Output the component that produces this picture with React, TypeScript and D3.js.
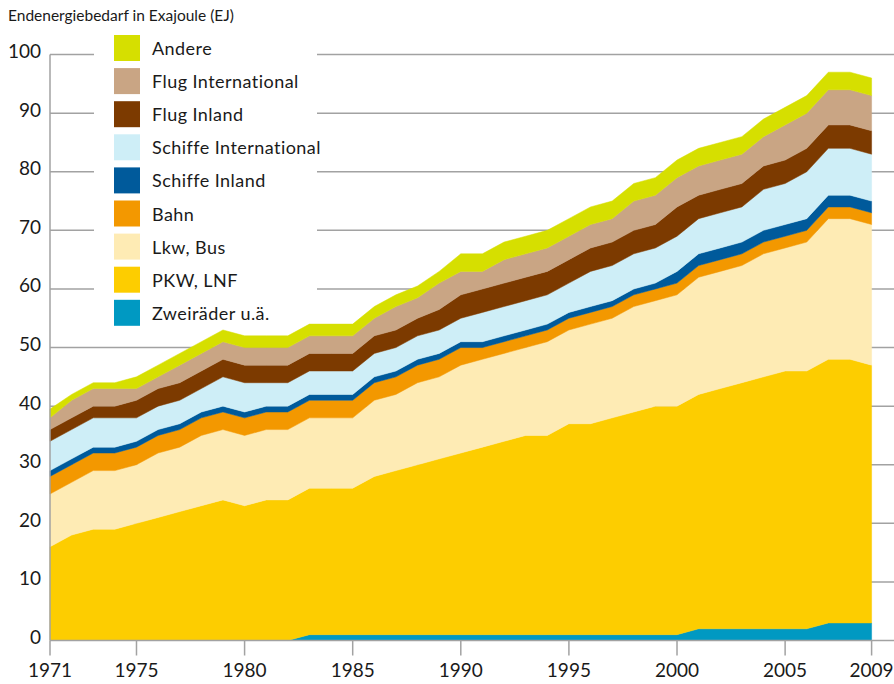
import React, { useRef, useEffect } from "react";
import * as d3 from "d3";

// values in EJ, one entry per year
const years = [
  1971, 1972, 1973, 1974, 1975, 1976, 1977, 1978, 1979, 1980, 1981, 1982, 1983,
  1984, 1985, 1986, 1987, 1988, 1989, 1990, 1991, 1992, 1993, 1994, 1995, 1996,
  1997, 1998, 1999, 2000, 2001, 2002, 2003, 2004, 2005, 2006, 2007, 2008, 2009,
];
const zweiraeder = [
  0, 0, 0, 0, 0, 0, 0, 0, 0, 0, 0, 0, 1, 1, 1, 1, 1, 1, 1, 1, 1, 1, 1, 1, 1, 1,
  1, 1, 1, 1, 2, 2, 2, 2, 2, 2, 3, 3, 3,
];
const pkw = [
  16, 18, 19, 19, 20, 21, 22, 23, 24, 23, 24, 24, 25, 25, 25, 27, 28, 29, 30, 31,
  32, 33, 34, 34, 36, 36, 37, 38, 39, 39, 40, 41, 42, 43, 44, 44, 45, 45, 44,
];
const lkw = [
  9, 9, 10, 10, 10, 11, 11, 12, 12, 12, 12, 12, 12, 12, 12, 13, 13, 14, 14, 15,
  15, 15, 15, 16, 16, 17, 17, 18, 18, 19, 20, 20, 20, 21, 21, 22, 24, 24, 24,
];
const bahn = [
  3, 3, 3, 3, 3, 3, 3, 3, 3, 3, 3, 3, 3, 3, 3, 3, 3, 3, 3, 3, 2, 2, 2, 2, 2, 2,
  2, 2, 2, 2, 2, 2, 2, 2, 2, 2, 2, 2, 2,
];
const schiffeInland = [
  1, 1, 1, 1, 1, 1, 1, 1, 1, 1, 1, 1, 1, 1, 1, 1, 1, 1, 1, 1, 1, 1, 1, 1, 1, 1,
  1, 1, 1, 2, 2, 2, 2, 2, 2, 2, 2, 2, 2,
];
const schiffeInternational = [
  5, 5, 5, 5, 4, 4, 4, 4, 5, 5, 4, 4, 4, 4, 4, 4, 4, 4, 4, 4, 5, 5, 5, 5, 5, 6,
  6, 6, 6, 6, 6, 6, 6, 7, 7, 8, 8, 8, 8,
];
const flugInland = [
  2, 2, 2, 2, 3, 3, 3, 3, 3, 3, 3, 3, 3, 3, 3, 3, 3, 3, 3.5, 4, 4, 4, 4, 4, 4, 4,
  4, 4, 4, 5, 4, 4, 4, 4, 4, 4, 4, 4, 4,
];
const flugInternational = [
  2, 3, 3, 3, 2, 2, 3, 3, 3, 3, 3, 3, 3, 3, 3, 3, 4, 3.5, 4.5, 4, 3, 4, 4, 4, 4,
  4, 4, 5, 5, 5, 5, 5, 5, 5, 6, 6, 6, 6, 6,
];
const andere = [
  1.5, 1, 1, 1, 2, 2, 2, 2, 2, 2, 2, 2, 2, 2, 2, 2, 2, 2, 2, 3, 3, 3, 3, 3, 3, 3,
  3, 3, 3, 3, 3, 3, 3, 3, 3, 3, 3, 3, 3,
];

// bottom to top
const seriesNames = [
  "Zweiräder u.ä.",
  "PKW, LNF",
  "Lkw, Bus",
  "Bahn",
  "Schiffe Inland",
  "Schiffe International",
  "Flug Inland",
  "Flug International",
  "Andere",
];
const seriesValues = [
  zweiraeder,
  pkw,
  lkw,
  bahn,
  schiffeInland,
  schiffeInternational,
  flugInland,
  flugInternational,
  andere,
];
const seriesColors = [
  "#0099c2",
  "#fdcd00",
  "#feebb4",
  "#f39800",
  "#005a9b",
  "#ceeef7",
  "#7c3a00",
  "#c9a584",
  "#d6df00",
];

const yTicks = [0, 10, 20, 30, 40, 50, 60, 70, 80, 90, 100];
const xTicks = [1971, 1975, 1980, 1985, 1990, 1995, 2000, 2005, 2009];

const width = 894;
const height = 684;
const font = "Lato, 'Open Sans', sans-serif";
const gridColor = "#a2a2a2";

const App = () => {
  const svgRef = useRef(null);

  useEffect(() => {
    const svg = d3.select(svgRef.current);
    svg.selectAll("*").remove();

    const rows = years.map((year, i) => {
      const row: any = { year };
      seriesNames.forEach((name, k) => {
        row[name] = seriesValues[k][i];
      });
      return row;
    });
    const layers = d3.stack().keys(seriesNames)(rows);

    const xScale = d3.scaleLinear().domain([1971, 2009]).range([50, 871.6]);
    const yScale = d3.scaleLinear().domain([0, 100]).range([640.5, 54.6]);

    // grid lines behind everything
    svg
      .append("g")
      .selectAll("line")
      .data(yTicks.filter((t) => t > 0))
      .join("line")
      .attr("x1", 50)
      .attr("x2", width)
      .attr("y1", (d) => yScale(d))
      .attr("y2", (d) => yScale(d))
      .attr("stroke", gridColor)
      .attr("stroke-width", 1.5);

    // white box behind legend hides the grid lines
    svg
      .append("rect")
      .attr("x", 94)
      .attr("y", 30)
      .attr("width", 223)
      .attr("height", 300)
      .attr("fill", "#ffffff");

    // stacked areas
    const area = d3
      .area<any>()
      .x((d) => xScale(d.data.year))
      .y0((d) => yScale(d[0]))
      .y1((d) => yScale(d[1]));

    svg
      .append("g")
      .selectAll("path")
      .data(layers)
      .join("path")
      .attr("d", area)
      .attr("fill", (d, i) => seriesColors[i])
      .attr("stroke", (d, i) => seriesColors[i])
      .attr("stroke-width", 0.5);

    // axis lines
    svg
      .append("line")
      .attr("x1", 50)
      .attr("x2", 50)
      .attr("y1", yScale(100))
      .attr("y2", yScale(0))
      .attr("stroke", gridColor)
      .attr("stroke-width", 1.5);
    svg
      .append("line")
      .attr("x1", 50)
      .attr("x2", width)
      .attr("y1", yScale(0))
      .attr("y2", yScale(0))
      .attr("stroke", gridColor)
      .attr("stroke-width", 1.5);

    // x ticks + labels
    const xAxis = svg.append("g");
    xAxis
      .selectAll("line")
      .data(xTicks)
      .join("line")
      .attr("x1", (d) => xScale(d))
      .attr("x2", (d) => xScale(d))
      .attr("y1", yScale(0))
      .attr("y2", yScale(0) + 15)
      .attr("stroke", gridColor)
      .attr("stroke-width", 1.5);
    xAxis
      .selectAll("text")
      .data(xTicks)
      .join("text")
      .attr("x", (d) => xScale(d))
      .attr("y", 677)
      .attr("text-anchor", "middle")
      .attr("fill", "#1a1a1a")
      .style("font-size", "19px")
      .text((d) => String(d));

    // y labels
    svg
      .append("g")
      .selectAll("text")
      .data(yTicks)
      .join("text")
      .attr("x", 41)
      .attr("y", (d) => yScale(d) + 3.5)
      .attr("text-anchor", "end")
      .attr("fill", "#1a1a1a")
      .style("font-size", "19px")
      .text((d) => String(d));

    // title
    svg
      .append("text")
      .attr("x", 8)
      .attr("y", 20.5)
      .attr("fill", "#1a1a1a")
      .style("font-size", "15.5px")
      .text("Endenergiebedarf in Exajoule (EJ)");

    // legend
    const legendItems = seriesNames
      .map((name, i) => ({ name, color: seriesColors[i] }))
      .reverse();

    const items = svg
      .append("g")
      .selectAll("g.item")
      .data(legendItems)
      .join("g")
      .attr("class", "item")
      .attr("transform", (d, i) => `translate(114, ${35 + i * 33.1})`);
    items
      .append("rect")
      .attr("width", 26)
      .attr("height", 26)
      .attr("fill", (d) => d.color);
    items
      .append("text")
      .attr("x", 38)
      .attr("y", 20)
      .attr("fill", "#1a1a1a")
      .style("font-size", "18px")
      .style("letter-spacing", "0.45px")
      .text((d) => d.name);
  }, []);

  return (
    <svg
      ref={svgRef}
      width={width}
      height={height}
      style={{ position: "absolute", left: 0, top: 0, fontFamily: font, background: "#fff" }}
    />
  );
};

export default App;
